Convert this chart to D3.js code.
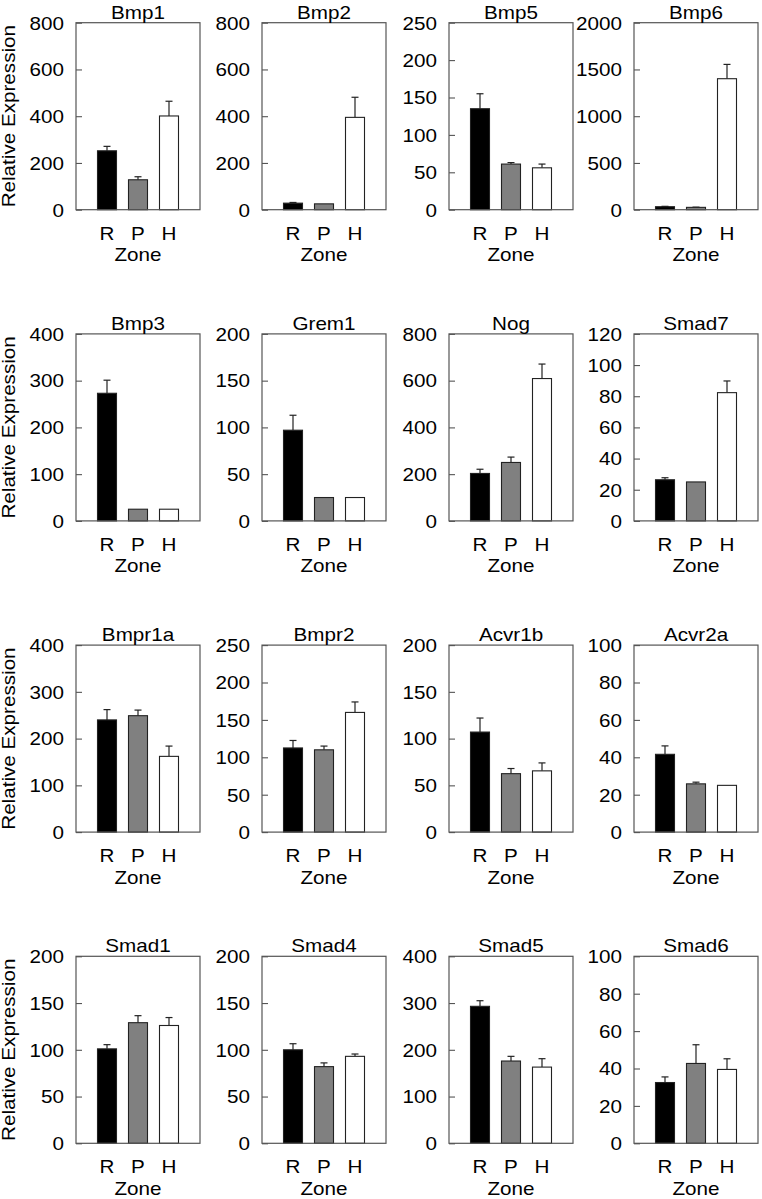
<!DOCTYPE html>
<html>
<head>
<meta charset="utf-8">
<script src="https://cdn.jsdelivr.net/npm/d3@7"></script>
<style>
  html, body { margin: 0; padding: 0; background: #fff; }
  svg { display: block; }
  text { font-family: "Liberation Sans", Arial, sans-serif; fill: #000; }
</style>
</head>
<body>
<script>
// ---- data ----
const genes = ["Bmp1","Bmp2","Bmp5","Bmp6","Bmp3","Grem1","Nog","Smad7",
               "Bmpr1a","Bmpr2","Acvr1b","Acvr2a","Smad1","Smad4","Smad5","Smad6"];
const zones = ["R","P","H"];
const yMax  = [800,800,250,2000,400,200,800,120,400,250,200,100,200,200,400,100];
const yStep = [200,200,50,500,100,50,200,20,100,50,50,20,50,50,100,20];
// mean relative expression for R, P, H
const means = [
  [252,128,401],[28,25,395],[135,61,56],[32,25,1401],
  [273,25,25],[97,25,25],[203,250,609],[26.4,25,82.3],
  [240,249,162],[112.5,110,160],[107,62.5,65.5],[41.6,25.8,25],
  [101,129,126],[100,82,93],[293,176,163],[32.5,42.7,39.5]
];
// upper error (SEM) for R, P, H
const errors = [
  [19,13,63],[3,0,86],[20,2,5],[4,2,153],
  [28,0,0],[16,0,0],[18,23,62],[1.3,0,7.5],
  [22,12,22],[10,5,14],[15,5.5,8.5],[4.5,0.9,0],
  [4.5,7.5,8.5],[6.5,4,2.5],[12,10,18],[3,10,5.7]
];
const fills = ["#000000","#808080","#ffffff"];

// ---- layout ----
const W = 762, H = 1199;
const colLeft = [76, 262, 449, 634];
const rowTop0 = 22.7, rowStep = 311.2;
const boxW = 124, boxH = 187;
const barW = 19, capW = 7;
const FS = 17.5, SX = 1.18;

const svg = d3.select("body").append("svg").attr("width", W).attr("height", H);

function addText(sel, x, y, str, anchor, rot) {
  return sel.append("text")
    .attr("transform", `translate(${x},${y})${rot ? " rotate(" + rot + ")" : ""} scale(${SX},1)`)
    .attr("text-anchor", anchor || "middle")
    .attr("font-size", FS)
    .text(str);
}

genes.forEach((g, i) => {
  const col = i % 4, row = Math.floor(i / 4);
  const x0 = colLeft[col], y0 = rowTop0 + row * rowStep;
  const gp = svg.append("g").attr("transform", `translate(${x0},${y0})`);

  const x = d3.scalePoint().domain(zones).range([0, boxW]).padding(1);
  const y = d3.scaleLinear().domain([0, yMax[i]]).range([boxH, 0]);

  const rows = zones.map((z, k) => ({ z, m: means[i][k], e: errors[i][k], f: fills[k] }));

  // error bars (drawn first, behind bars)
  const eb = gp.append("g").selectAll("g").data(rows.filter(d => d.e > 0)).join("g");
  eb.append("line")
    .attr("x1", d => x(d.z)).attr("x2", d => x(d.z))
    .attr("y1", d => y(d.m)).attr("y2", d => y(d.m + d.e))
    .attr("stroke", "#222").attr("stroke-width", 1.2);
  eb.append("line")
    .attr("x1", d => x(d.z) - capW / 2).attr("x2", d => x(d.z) + capW / 2)
    .attr("y1", d => y(d.m + d.e)).attr("y2", d => y(d.m + d.e))
    .attr("stroke", "#222").attr("stroke-width", 1.2);

  // bars
  gp.append("g").selectAll("rect").data(rows).join("rect")
    .attr("x", d => x(d.z) - barW / 2)
    .attr("y", d => y(d.m))
    .attr("width", barW)
    .attr("height", d => boxH - y(d.m))
    .attr("fill", d => d.f)
    .attr("stroke", "#222").attr("stroke-width", 1.1);

  // y axis with inward ticks
  const ticks = d3.range(0, yMax[i] + yStep[i] / 2, yStep[i]);
  const ax = gp.append("g").call(
    d3.axisLeft(y).tickValues(ticks).tickSizeInner(-6).tickSizeOuter(0)
      .tickPadding(12).tickFormat(d3.format("d"))
  );
  ax.select(".domain").remove();
  ax.selectAll(".tick line").attr("stroke", "#555").attr("stroke-width", 1.1);
  ax.selectAll(".tick text")
    .attr("x", null)
    .attr("dy", "0.36em")
    .attr("transform", `translate(-12,0) scale(${SX},1)`)
    .attr("font-size", FS).attr("fill", "#000")
    .attr("font-family", "Liberation Sans, Arial, sans-serif");

  // frame
  gp.append("rect").attr("x", 0).attr("y", 0).attr("width", boxW).attr("height", boxH)
    .attr("fill", "none").attr("stroke", "#555").attr("stroke-width", 1.2);

  // x labels
  zones.forEach(z => addText(gp, x(z), boxH + 30, z));
  addText(gp, boxW / 2, boxH + 51.5, "Zone");

  // title
  addText(gp, boxW / 2, -4, g);

  // y label on first column
  if (col === 0) {
    addText(gp, 15 - x0, boxH / 2, "Relative Expression", "middle", -90);
  }
});
</script>
</body>
</html>
